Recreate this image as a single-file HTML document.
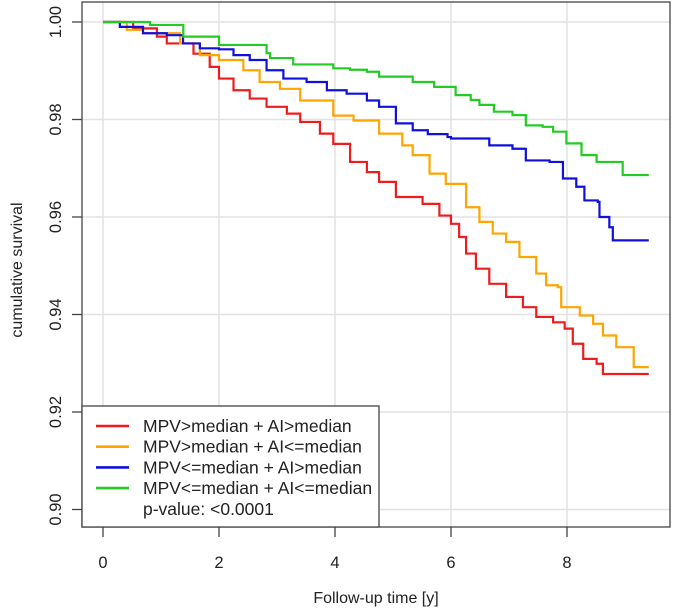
<!DOCTYPE html>
<html><head><meta charset="utf-8"><style>
body{margin:0;background:#fff;}
svg{display:block;font-family:"Liberation Sans",Arial,sans-serif;}
</style></head><body>
<svg id="chart" width="675" height="615">
<g id="grid"></g><g id="series"></g><g id="axes"></g><g id="legend"></g>
</svg>
<script>
const xTicks=[0,2,4,6,8];
const yTicks=[0.90,0.92,0.94,0.96,0.98,1.00];
const yTickLabels=["0.90","0.92","0.94","0.96","0.98","1.00"];
const seriesNames=["MPV>median + AI>median","MPV>median + AI<=median","MPV<=median + AI>median","MPV<=median + AI<=median"];
const seriesColors=["#ee1c1c","#ffa500","#1010dd","#22cc22"];
const redT=[0,0.29,0.52,0.93,1.1,1.56,1.84,2.0,2.25,2.53,2.82,3.17,3.4,3.74,3.97,4.26,4.55,4.76,5.05,5.51,5.8,6.0,6.14,6.26,6.43,6.66,6.95,7.24,7.47,7.76,7.96,8.1,8.28,8.51,8.62,9.41];
const redV=[1,1,0.9987,0.997,0.9956,0.9935,0.9908,0.9884,0.986,0.9843,0.9826,0.9812,0.9795,0.9771,0.975,0.9713,0.9692,0.9672,0.9641,0.9627,0.9603,0.9586,0.9559,0.9525,0.9494,0.9463,0.9436,0.9415,0.9395,0.9384,0.9371,0.934,0.9309,0.9299,0.9278,0.9278];
const orangeT=[0,0.41,0.69,1.33,1.67,2.0,2.42,2.7,3.05,3.4,3.97,4.32,4.76,5.16,5.34,5.63,5.91,6.26,6.49,6.72,6.95,7.18,7.47,7.64,7.84,7.9,8.22,8.45,8.62,8.85,9.15,9.41];
const orangeV=[1,0.9984,0.9977,0.9956,0.9932,0.9922,0.9901,0.9877,0.9863,0.9839,0.9808,0.9798,0.9771,0.9747,0.9727,0.9689,0.9668,0.962,0.959,0.9566,0.9549,0.9518,0.9484,0.946,0.9456,0.9415,0.9398,0.9381,0.9357,0.9333,0.9292,0.9292];
const blueT=[0,0.29,0.69,1.1,1.38,1.67,2.0,2.25,2.53,2.82,3.11,3.51,3.86,4.2,4.55,4.76,5.05,5.34,5.6,5.94,6.0,6.66,7.06,7.29,7.7,7.93,8.16,8.3,8.53,8.56,8.73,8.79,9.41];
const blueV=[1,0.999,0.9977,0.9973,0.9956,0.9946,0.9944,0.9932,0.9922,0.9901,0.9884,0.9877,0.986,0.9853,0.9839,0.9826,0.9792,0.9778,0.977,0.9764,0.9761,0.9747,0.974,0.9716,0.9713,0.9679,0.9662,0.9634,0.9631,0.96,0.9579,0.9552,0.9552];
const greenT=[0,0.81,1.385,2.0,2.82,2.88,3.28,3.97,4.26,4.55,4.76,5.25,5.34,5.71,6.08,6.34,6.49,6.74,7.06,7.29,7.58,7.76,7.99,8.25,8.51,8.96,9.41];
const greenV=[1,0.9994,0.997,0.9953,0.9936,0.9926,0.9913,0.9905,0.9902,0.9898,0.9888,0.9888,0.9877,0.9867,0.985,0.984,0.983,0.9816,0.9809,0.9788,0.9785,0.9775,0.9751,0.9727,0.9713,0.9686,0.9686];
const allT=[redT,orangeT,blueT,greenT], allV=[redV,orangeV,blueV,greenV];
const seriesKeys=["red","orange","blue","green"];

const L=82,R=670,T=2,B=527;
const xs=t=>103+58*t;
const ys=v=>22+(1-v)/0.02*97.5;
const NS="http://www.w3.org/2000/svg";
function mk(tag,attrs,parent){const e=document.createElementNS(NS,tag);for(const k in attrs)e.setAttribute(k,attrs[k]);parent.appendChild(e);return e;}
const grid=document.getElementById('grid'),ser=document.getElementById('series'),ax=document.getElementById('axes'),lg=document.getElementById('legend');

xTicks.forEach(t=>{const l=mk('line',{x1:xs(t),x2:xs(t),y1:T,y2:B,stroke:'#e2e2e2','stroke-width':1.5},grid);

});
yTicks.forEach(v=>{const l=mk('line',{x1:L,x2:R,y1:ys(v),y2:ys(v),stroke:'#e2e2e2','stroke-width':1.5},grid);

});

allT.forEach((ts,i)=>{const vs=allV[i];let d='M'+xs(ts[0])+','+ys(vs[0]);
for(let j=1;j<ts.length;j++){d+=' H'+xs(ts[j])+' V'+ys(vs[j]);}
const p=mk('path',{d:d,fill:'none',stroke:seriesColors[i],'stroke-width':2.2},ser);

});

const box=mk('rect',{x:L,y:T,width:R-L,height:B-T,fill:'none',stroke:'#444','stroke-width':1.3},ax);


xTicks.forEach(t=>{const l=mk('line',{x1:xs(t),x2:xs(t),y1:B,y2:B+10,stroke:'#444','stroke-width':1.3},ax);


const tx=mk('text',{x:xs(t),y:B+41,'text-anchor':'middle','font-size':16.5,fill:'#222'},ax);tx.textContent=t;

});
yTicks.forEach((v,i)=>{const l=mk('line',{x1:L-10,x2:L,y1:ys(v),y2:ys(v),stroke:'#444','stroke-width':1.3},ax);


const tx=mk('text',{x:61,y:ys(v),'text-anchor':'middle','font-size':16.5,fill:'#222',transform:'rotate(-90 61 '+ys(v)+')'},ax);tx.textContent=yTickLabels[i];

});
const xt=mk('text',{x:376,y:603,'text-anchor':'middle','font-size':16,fill:'#222'},ax);xt.textContent='Follow-up time [y]';


const yt=mk('text',{x:22,y:270,'text-anchor':'middle','font-size':16,fill:'#222',transform:'rotate(-90 22 270)'},ax);yt.textContent='cumulative survival';



const lb=mk('rect',{x:L,y:406,width:297,height:B-406,fill:'#fff',stroke:'#444','stroke-width':1.3},lg);


seriesNames.forEach((n,i)=>{const y=426+20.7*i;
const l=mk('line',{x1:96,x2:129,y1:y,y2:y,stroke:seriesColors[i],'stroke-width':2.6},lg);


const tx=mk('text',{x:143,y:y+6,'font-size':17.5,fill:'#222'},lg);tx.textContent=n;

});
const pv=mk('text',{x:143,y:515,'font-size':17.5,fill:'#222'},lg);pv.textContent='p-value: <0.0001';


</script>
</body></html>
